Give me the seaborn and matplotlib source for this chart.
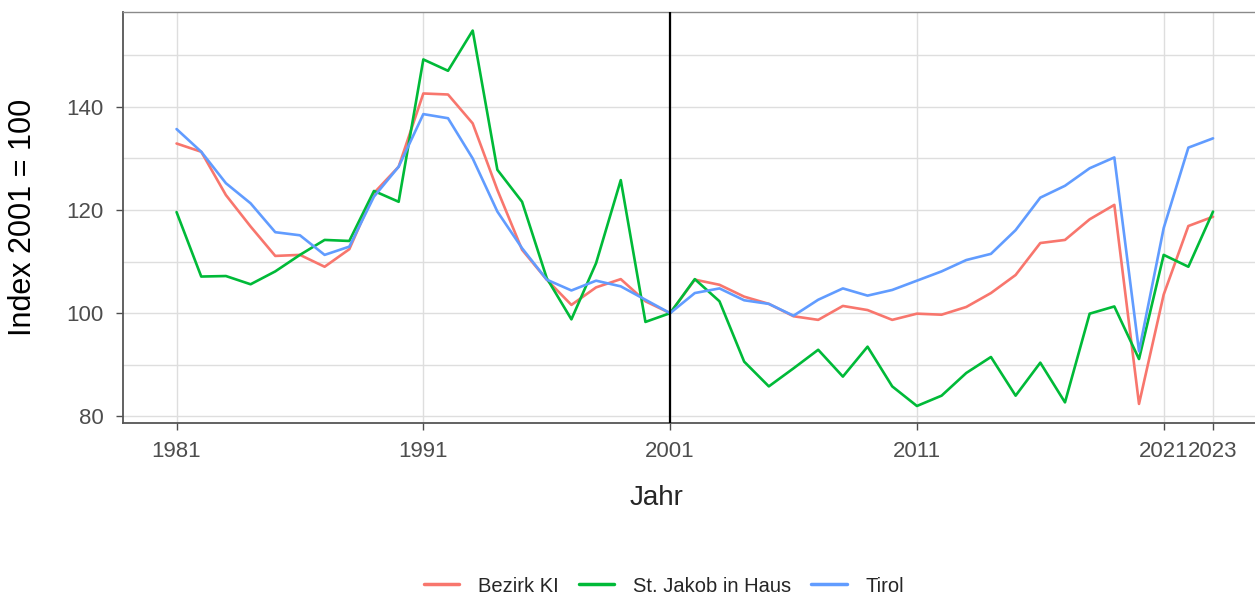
import numpy as np
import pandas as pd
import seaborn as sns
import matplotlib.pyplot as plt
from matplotlib.lines import Line2D

# Werte (Index 2001 = 100)
jahre = list(range(1981, 2024))

bezirk_kl = [132.9, 131.3, 122.9, 116.8, 111.1, 111.3, 109.0, 112.4, 123.3, 128.4,
             142.6, 142.4, 136.8, 123.9, 112.3, 106.5, 101.6, 105.0, 106.6, 102.3,
             100.0, 106.5, 105.5, 103.2, 101.8, 99.4, 98.7, 101.4, 100.6, 98.7,
             99.9, 99.7, 101.2, 103.9, 107.4, 113.6, 114.2, 118.2, 121.0, 82.4,
             103.6, 116.9, 118.7]

st_jakob = [119.6, 107.1, 107.2, 105.6, 108.1, 111.3, 114.2, 114.0, 123.7, 121.6,
            149.2, 147.0, 154.8, 127.8, 121.6, 106.8, 98.8, 109.7, 125.8, 98.3,
            100.0, 106.6, 102.3, 90.6, 85.8, 89.3, 92.9, 87.7, 93.5, 85.8,
            82.0, 84.0, 88.4, 91.5, 84.0, 90.4, 82.7, 99.9, 101.3, 91.1,
            111.3, 109.0, 119.7]

tirol = [135.7, 131.3, 125.2, 121.3, 115.7, 115.1, 111.3, 112.9, 122.6, 128.4,
         138.6, 137.8, 130.0, 119.7, 112.6, 106.5, 104.4, 106.3, 105.2, 102.6,
         100.0, 103.9, 104.8, 102.5, 101.8, 99.5, 102.6, 104.8, 103.4, 104.5,
         106.3, 108.1, 110.3, 111.5, 116.1, 122.4, 124.7, 128.1, 130.2, 92.6,
         116.5, 132.1, 133.9]

namen = ['Bezirk KI', 'St. Jakob in Haus', 'Tirol']
farben = ['#F8766D', '#00BA38', '#619CFF']
x_ticks = [1981, 1991, 2001, 2011, 2021, 2023]
y_ticks = [80, 100, 120, 140]

df = pd.DataFrame({
    'Jahr': jahre * 3,
    'Index': bezirk_kl + st_jakob + tirol,
    'Gebiet': [namen[0]] * len(jahre) + [namen[1]] * len(jahre) + [namen[2]] * len(jahre),
})

sns.set_style('white')
plt.rcParams['font.family'] = ['Liberation Sans', 'DejaVu Sans']

fig = plt.figure(figsize=(12.55, 5.97), dpi=100)
ax = fig.add_axes([123 / 1255, 1 - 423 / 597, 1 - 123 / 1255, 411 / 597])

# Gitter
for y in [80, 90, 100, 110, 120, 130, 140, 150]:
    ax.axhline(y, color='#dedede', lw=1.0, zorder=0)
for x in x_ticks:
    ax.axvline(x, color='#dedede', lw=1.0, zorder=0)

sns.lineplot(data=df, x='Jahr', y='Index', hue='Gebiet', hue_order=namen,
             palette=farben, lw=1.9, ax=ax, legend=False, zorder=3)

ax.axvline(2001, color='black', lw=1.6, zorder=4)

ax.set_xlim(1978.83, 2024.7)
ax.set_ylim(78.7, 158.4)
ax.set_xticks(x_ticks)
ax.set_yticks(y_ticks)
ax.tick_params(axis='both', labelsize=16, labelcolor='#4d4d4d', color='#4d4d4d',
               length=5, width=1, direction='out', bottom=True, left=True)
ax.tick_params(axis='y', pad=9)
ax.tick_params(axis='x', pad=8)
ax.set_xlabel('')
ax.set_ylabel('Index 2001 = 100', fontsize=22, color='black', va='center')
ax.yaxis.set_label_coords((23 - 123) / 1132, 0.5)

for s in ['left', 'bottom']:
    ax.spines[s].set_color('#555555')
    ax.spines[s].set_linewidth(1.3)
ax.spines['top'].set_color('#8a8a8a')
ax.spines['top'].set_linewidth(1.0)
ax.spines['right'].set_visible(False)

fig.text(657 / 1255, 1 - 498 / 597, 'Jahr', fontsize=20, ha='center', va='center')

handles = [Line2D([0], [0], color=c, lw=2.5) for c in farben]
fig.legend(handles, namen, loc='center', bbox_to_anchor=(664 / 1255, 1 - 586 / 597),
           ncol=3, frameon=False, fontsize=14.5, handlelength=1.75,
           handletextpad=0.95, columnspacing=1.0)

fig.savefig('out.png', dpi=100)
